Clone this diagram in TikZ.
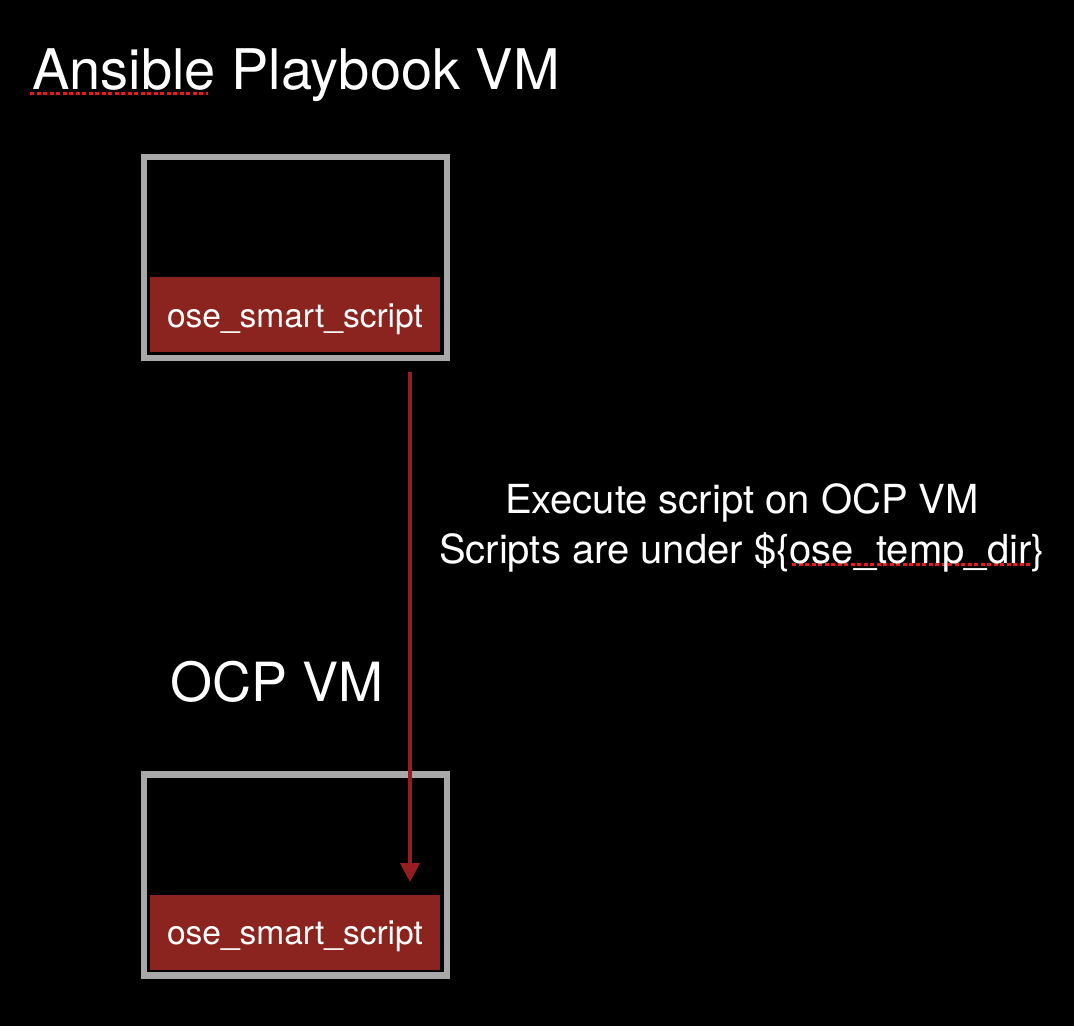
\documentclass[tikz,border=0pt]{standalone}
\usepackage{fontspec}
\setmainfont{TeX Gyre Heros}
\usetikzlibrary{arrows.meta,decorations.pathmorphing}
\definecolor{barred}{RGB}{139,35,30}
\definecolor{arrred}{RGB}{150,30,34}
\definecolor{framegray}{RGB}{168,168,168}
\definecolor{spellred}{RGB}{235,25,25}
\begin{document}
\begin{tikzpicture}[x=1pt,y=-1pt,
  vmbox/.style={draw=framegray, line width=6.5pt, minimum width=303pt, minimum height=201pt, inner sep=0pt,
    postaction={draw=framegray, line width=4pt, line join=round, line cap=round, decorate,
      decoration={random steps, segment length=1.2pt, amplitude=0.9pt}}},
  scriptbar/.style={fill=barred, draw=none, minimum width=290pt, minimum height=75pt, inner sep=0pt},
  bartext/.style={text=white, font=\fontsize{33.5}{38}\selectfont, inner sep=0pt, anchor=base},
  bigtext/.style={text=white, inner sep=0pt, anchor=base west},
  arr/.style={draw=arrred, line width=4pt, -{Triangle[width=19pt,length=19pt]}},
  spell/.style={draw=spellred, line width=3pt, dash pattern=on 4pt off 2.5pt}
]
\useasboundingbox (0,0) rectangle (1074,1026);
\fill[black] (0,0) rectangle (1074,1026);

% spell-check underlines
\coordinate (s1a) at (30,93);
\coordinate (s1b) at (208,93);
\coordinate (s2a) at (792,564);
\coordinate (s2b) at (1031,564);
\draw[spell] (s1a) -- (s1b);
\draw[spell] (s2a) -- (s2b);

% title
\node[bigtext, font=\fontsize{56}{60}\selectfont] (title) at (32,89) {Ansible Playbook VM};

% upper box
\node[vmbox] (box1) at (295.5,257.5) {};
\node[scriptbar] (bar1) at (295,314.5) {};
\node[bartext] (t1) at ([yshift=-12.5pt]bar1.center) {ose\_smart\_script};

% OCP VM label
\node[bigtext, font=\fontsize{54}{58}\selectfont] (ocp) at (170,701) {OCP VM};

% lower box
\node[vmbox] (box2) at (295.5,875) {};
\node[scriptbar] (bar2) at (295,932.5) {};
\node[bartext] (t2) at ([yshift=-12pt]bar2.center) {ose\_smart\_script};

% arrow
\coordinate (as) at (410,372);
\coordinate (ae) at (410,882);
\draw[arr] (as) -- (ae);

% arrow label
\node[text=white, inner sep=0pt, align=center, anchor=base,
      font=\fontsize{40}{50}\selectfont] (lab) at (742,563)
  {Execute script on OCP VM\\Scripts are under \$\{ose\_temp\_dir\}};
\end{tikzpicture}
\end{document}
